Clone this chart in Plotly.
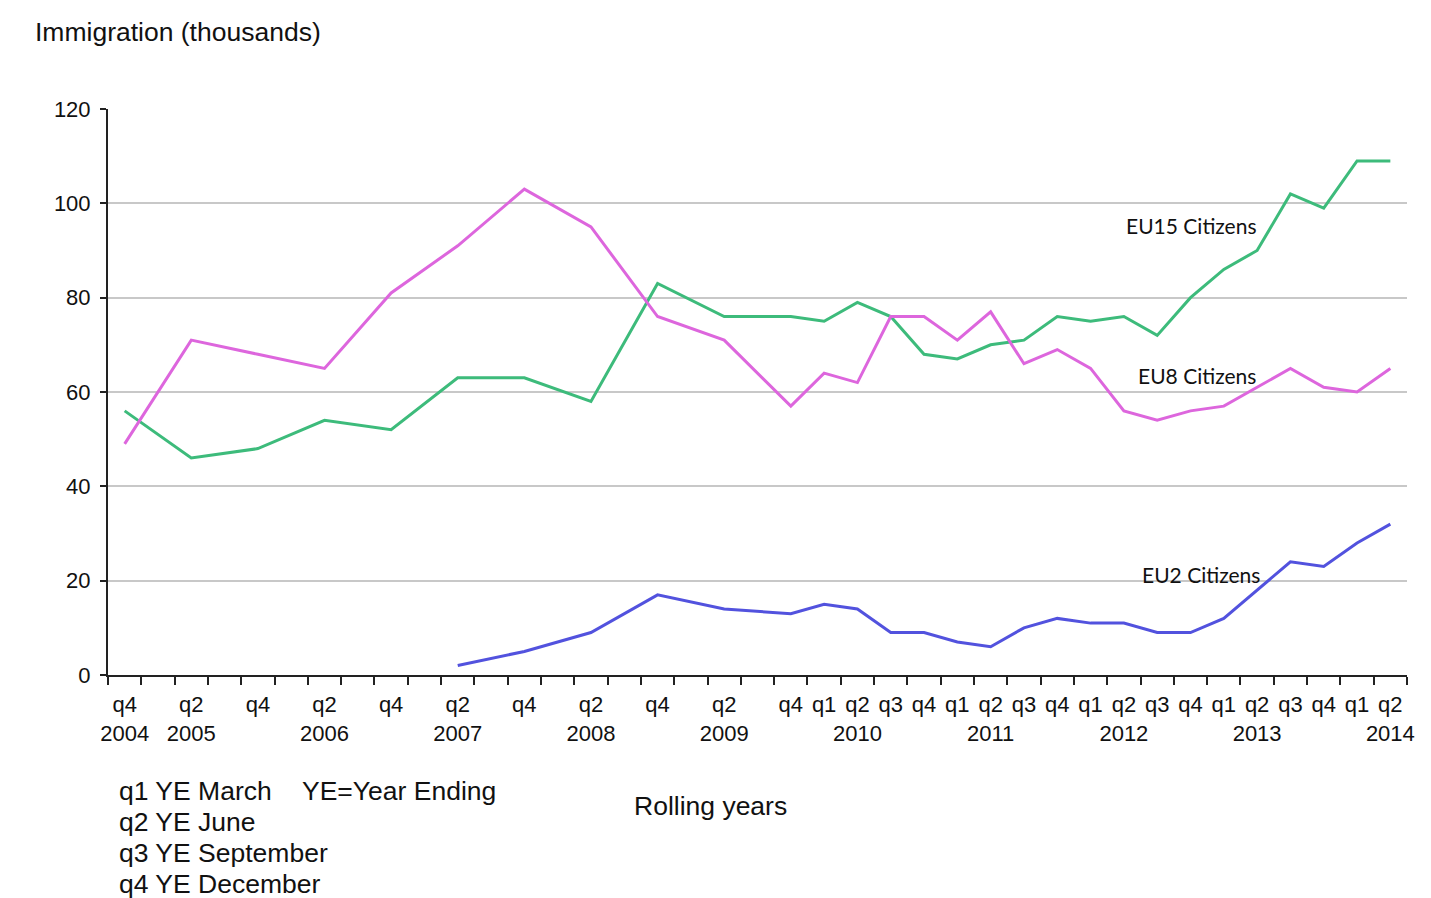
import plotly.graph_objects as go

quarters = [
    "2004 q4", "2005 q1", "2005 q2", "2005 q3", "2005 q4",
    "2006 q1", "2006 q2", "2006 q3", "2006 q4",
    "2007 q1", "2007 q2", "2007 q3", "2007 q4",
    "2008 q1", "2008 q2", "2008 q3", "2008 q4",
    "2009 q1", "2009 q2", "2009 q3", "2009 q4",
    "2010 q1", "2010 q2", "2010 q3", "2010 q4",
    "2011 q1", "2011 q2", "2011 q3", "2011 q4",
    "2012 q1", "2012 q2", "2012 q3", "2012 q4",
    "2013 q1", "2013 q2", "2013 q3", "2013 q4",
    "2014 q1", "2014 q2",
]

tick_labels = [
    "q4<br>2004", "", "q2<br>2005", "", "q4",
    "", "q2<br>2006", "", "q4",
    "", "q2<br>2007", "", "q4",
    "", "q2<br>2008", "", "q4",
    "", "q2<br>2009", "", "q4",
    "q1", "q2<br>2010", "q3", "q4",
    "q1", "q2<br>2011", "q3", "q4",
    "q1", "q2<br>2012", "q3", "q4",
    "q1", "q2<br>2013", "q3", "q4",
    "q1", "q2<br>2014",
]

# quarters with data (half-yearly until 2009, then quarterly)
eu15_quarters = [
    "2004 q4", "2005 q2", "2005 q4", "2006 q2", "2006 q4", "2007 q2", "2007 q4",
    "2008 q2", "2008 q4", "2009 q2", "2009 q4",
    "2010 q1", "2010 q2", "2010 q3", "2010 q4",
    "2011 q1", "2011 q2", "2011 q3", "2011 q4",
    "2012 q1", "2012 q2", "2012 q3", "2012 q4",
    "2013 q1", "2013 q2", "2013 q3", "2013 q4",
    "2014 q1", "2014 q2",
]
eu15_values = [56, 46, 48, 54, 52, 63, 63, 58, 83, 76, 76,
               75, 79, 76, 68, 67, 70, 71, 76, 75, 76, 72, 80,
               86, 90, 102, 99, 109, 109]

eu8_quarters = eu15_quarters
eu8_values = [49, 71, 68, 65, 81, 91, 103, 95, 76, 71, 57,
              64, 62, 76, 76, 71, 77, 66, 69, 65, 56, 54, 56,
              57, 61, 65, 61, 60, 65]

eu2_quarters = [
    "2007 q2", "2007 q4", "2008 q2", "2008 q4", "2009 q2", "2009 q4",
    "2010 q1", "2010 q2", "2010 q3", "2010 q4",
    "2011 q1", "2011 q2", "2011 q3", "2011 q4",
    "2012 q1", "2012 q2", "2012 q3", "2012 q4",
    "2013 q1", "2013 q2", "2013 q3", "2013 q4",
    "2014 q1", "2014 q2",
]
eu2_values = [2, 5, 9, 17, 14, 13, 15, 14, 9, 9, 7, 6, 10, 12, 11, 11, 9, 9,
              12, 18, 24, 23, 28, 32]

y_ticks = [0, 20, 40, 60, 80, 100, 120]

FONT = "Liberation Sans, Arial, sans-serif"
LABEL_FONT = "Lato, Carlito, Calibri, sans-serif"

# page offset: the html body has an 8px margin
OFF = 8
PL, PR, PT, PB = 108, 1407, 109, 675  # plot area in page pixels
PW, PH = PR - PL, PB - PT

fig = go.Figure()
fig.add_trace(go.Scatter(x=eu15_quarters, y=eu15_values, mode="lines",
                         line=dict(color="#3DBB7B", width=3), name="EU15 Citizens"))
fig.add_trace(go.Scatter(x=eu8_quarters, y=eu8_values, mode="lines",
                         line=dict(color="#DD66DD", width=3), name="EU8 Citizens"))
fig.add_trace(go.Scatter(x=eu2_quarters, y=eu2_values, mode="lines",
                         line=dict(color="#5252DE", width=3), name="EU2 Citizens"))

W, H = 1431 - OFF, 898 - OFF
fig.update_layout(
    width=W, height=H,
    margin=dict(l=PL - OFF, r=W - (PR - OFF), t=PT - OFF, b=H - (PB - OFF)),
    paper_bgcolor="white", plot_bgcolor="white",
    showlegend=False,
    font=dict(family=FONT, size=22, color="#111111"),
)

fig.update_xaxes(
    type="category", categoryorder="array", categoryarray=quarters,
    range=[-0.5, len(quarters) - 0.5],
    tickmode="array", tickvals=quarters, ticktext=tick_labels,
    tickson="boundaries", ticks="outside", ticklen=8, tickwidth=1.5, tickcolor="#222222",
    showline=True, linecolor="#222222", linewidth=2,
    showgrid=False, zeroline=False,
    tickfont=dict(family=FONT, size=22, color="#111111"),
    tickangle=0, ticklabelstandoff=9,
)
fig.update_yaxes(
    range=[0, 120], tickmode="array", tickvals=y_ticks,
    ticks="outside", ticklen=6, tickwidth=1.5, tickcolor="#222222",
    showline=True, linecolor="#222222", linewidth=2,
    showgrid=True, gridcolor="#C8C8C8", gridwidth=1.5,
    zeroline=False,
    tickfont=dict(family=FONT, size=22, color="#111111"),
    ticklabelstandoff=5,
)


def px_x(px):
    return (px - PL) / PW


def px_y(py):
    return (PB - py) / PH


fig.add_annotation(text="Immigration (thousands)", xref="paper", yref="paper",
                   x=px_x(33), y=px_y(32), xanchor="left", yanchor="middle",
                   showarrow=False, font=dict(family=FONT, size=26.5, color="#111111"))

labels = [("EU15 Citizens", 1191, 225), ("EU8 Citizens", 1197, 375), ("EU2 Citizens", 1201, 574)]
for txt, px, py in labels:
    fig.add_annotation(text=txt, xref="paper", yref="paper",
                       x=px_x(px), y=px_y(py),
                       xanchor="center", yanchor="middle", showarrow=False,
                       font=dict(family=LABEL_FONT, size=21, color="#111111"))

notes = [("q1 YE March", 791), ("q2 YE June", 822), ("q3 YE September", 853), ("q4 YE December", 884)]
for txt, py in notes:
    fig.add_annotation(text=txt, xref="paper", yref="paper",
                       x=px_x(117), y=px_y(py),
                       xanchor="left", yanchor="middle", showarrow=False,
                       font=dict(family=FONT, size=26.5, color="#111111"))
fig.add_annotation(text="YE=Year Ending", xref="paper", yref="paper",
                   x=px_x(300), y=px_y(791),
                   xanchor="left", yanchor="middle", showarrow=False,
                   font=dict(family=FONT, size=26.5, color="#111111"))
fig.add_annotation(text="Rolling years", xref="paper", yref="paper",
                   x=px_x(632), y=px_y(806),
                   xanchor="left", yanchor="middle", showarrow=False,
                   font=dict(family=FONT, size=26.5, color="#111111"))

fig.write_html("out.html")
